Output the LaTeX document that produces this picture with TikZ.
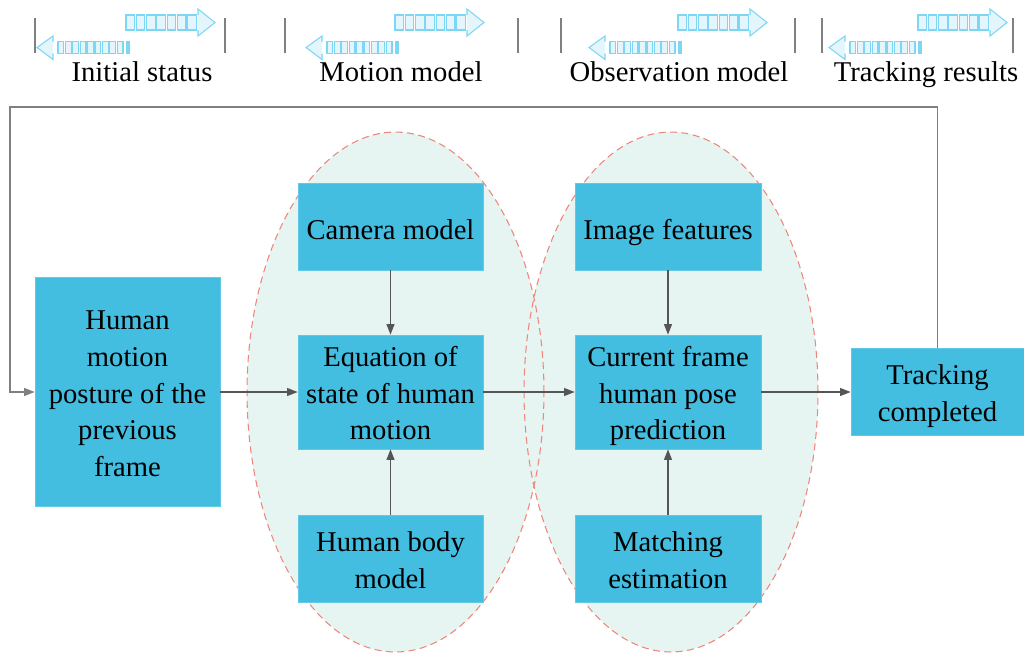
\documentclass[tikz,border=0pt]{standalone}
\usepackage{fontspec}
\setmainfont{Liberation Serif}
\usetikzlibrary{positioning, calc, arrows.meta}

\definecolor{boxblue}{HTML}{43BDE0}
\definecolor{boxedge}{HTML}{62C8E8}
\definecolor{ovalfill}{HTML}{E6F5F2}
\definecolor{ovalline}{HTML}{F0857A}
\definecolor{flowgray}{HTML}{555555}
\definecolor{loopgray}{HTML}{808080}
\definecolor{tofuline}{HTML}{7ED6F5}
\definecolor{tofufill}{HTML}{E4F5FC}

% props that keep the text of every box at the same height
\newcommand{\toprop}{\rule{0pt}{18.8pt}}
\newcommand{\stackprop}{\rule{0pt}{16.6pt}}
\newcommand{\botprop}{\rule[-4pt]{0pt}{4pt}}

\begin{document}
\begin{tikzpicture}[x=0.02cm, y=-0.02cm, every node/.style={font=\fontsize{16.3}{21}\selectfont, align=center}]
		\tikzstyle{block}=[draw=boxedge, line width=0.4pt, fill=boxblue, text=black, inner sep=0pt, minimum width=3.7cm, execute at begin node=\toprop, execute at end node=\botprop]
		\tikzstyle{flow}=[draw=flowgray, line width=0.6pt, -{Triangle[length=6pt, width=4.5pt]}]
		\tikzstyle{oval}=[fill=ovalfill]
		\tikzstyle{ovaledge}=[draw=ovalline, dash pattern=on 4pt off 2.5pt, line width=0.6pt]
		\tikzstyle{tofu}=[draw=tofuline, fill=tofufill, line width=0.6pt]
		\tikzstyle{bar}=[draw=gray, line width=0.8pt]
		
		\useasboundingbox (0,0) rectangle (1024,654);
		
		% header strip
		\foreach \lb/\rb/\ta/\lx/\txt [count=\n] in {35/225/126/142/Initial status, 285/518/395/401/Motion model, 561/795/678/679/Observation model, 822/1013/918/926/Tracking results} {
			\draw[bar] (\lb,18) -- (\lb,53) (\rb,18) -- (\rb,53);
			\foreach \k in {0,...,6}
				\path[tofu] ({\ta+\k*10.3},15) rectangle ++(8.5,15);
			\path[tofu] ({\ta+72},15) -- ++(0,-6) -- ({\ta+89},22.5) -- ({\ta+72},36) -- ++(0,-6);
			\foreach \k in {0,...,8}
				\path[tofu] ({\ta+3-71+\k*7.4},41.5) rectangle ++(5.8,12);
			\path[tofu] ({\ta+1},41.5) rectangle ++(2,12);
			\path[tofu] ({\ta+3-76},41.5) -- ++(0,-5.5) -- ({\ta+3-92},47.5) -- ({\ta+3-76},59.5) -- ++(0,-6);
			\node (head\n) at (\lx,81) [anchor=base] {\txt};
		}
		
		% the two model groups
		\path[oval] (395.5,392) ellipse [x radius=2.97cm, y radius=5.2cm];
		\path[oval] (671,392) ellipse [x radius=2.94cm, y radius=5.2cm];
		\path[ovaledge] (395.5,392) ellipse [x radius=2.97cm, y radius=5.2cm];
		\path[ovaledge] (671,392) ellipse [x radius=2.94cm, y radius=5.2cm];
		
		\node (prev) at (127.5,392) [block, minimum height=4.58cm] {\stackprop Human\\motion\\posture of the\\previous\\frame};
		
		\node (cam) at (390.5,226.5) [block, minimum height=1.74cm] {Camera model};
		\node (eq) at (390.5,392) [block, minimum height=2.28cm] {\stackprop Equation of\\state of human\\motion};
		\node (body) at (390.5,558.5) [block, minimum height=1.74cm] {\stackprop Human body\\model};
		
		\node (img) at (668,226.5) [block, minimum width=3.72cm, minimum height=1.74cm] {Image features};
		\node (cur) at (668,392) [block, minimum width=3.72cm, minimum height=2.28cm] {\stackprop Current frame\\human pose\\prediction};
		\node (match) at (668,558.5) [block, minimum width=3.72cm, minimum height=1.74cm] {\stackprop Matching\\estimation};
		
		\node (track) at (937.5,392) [block, minimum width=3.46cm, minimum height=1.74cm] {\stackprop Tracking\\completed};
		
		\draw[flow] (prev) -- (eq);
		\draw[flow] (eq) -- (cur);
		\draw[flow] (cur) -- (track);
		\draw[flow] (cam) -- (eq);
		\draw[flow] (body) -- (eq);
		\draw[flow] (img) -- (cur);
		\draw[flow] (match) -- (cur);
		
		% feedback to the next frame
		\coordinate (loop) at (10,107);
		\draw[flow, draw=loopgray, line width=0.9pt] (track.north) |- (loop) |- (prev.west);
		\end{tikzpicture}
\end{document}
